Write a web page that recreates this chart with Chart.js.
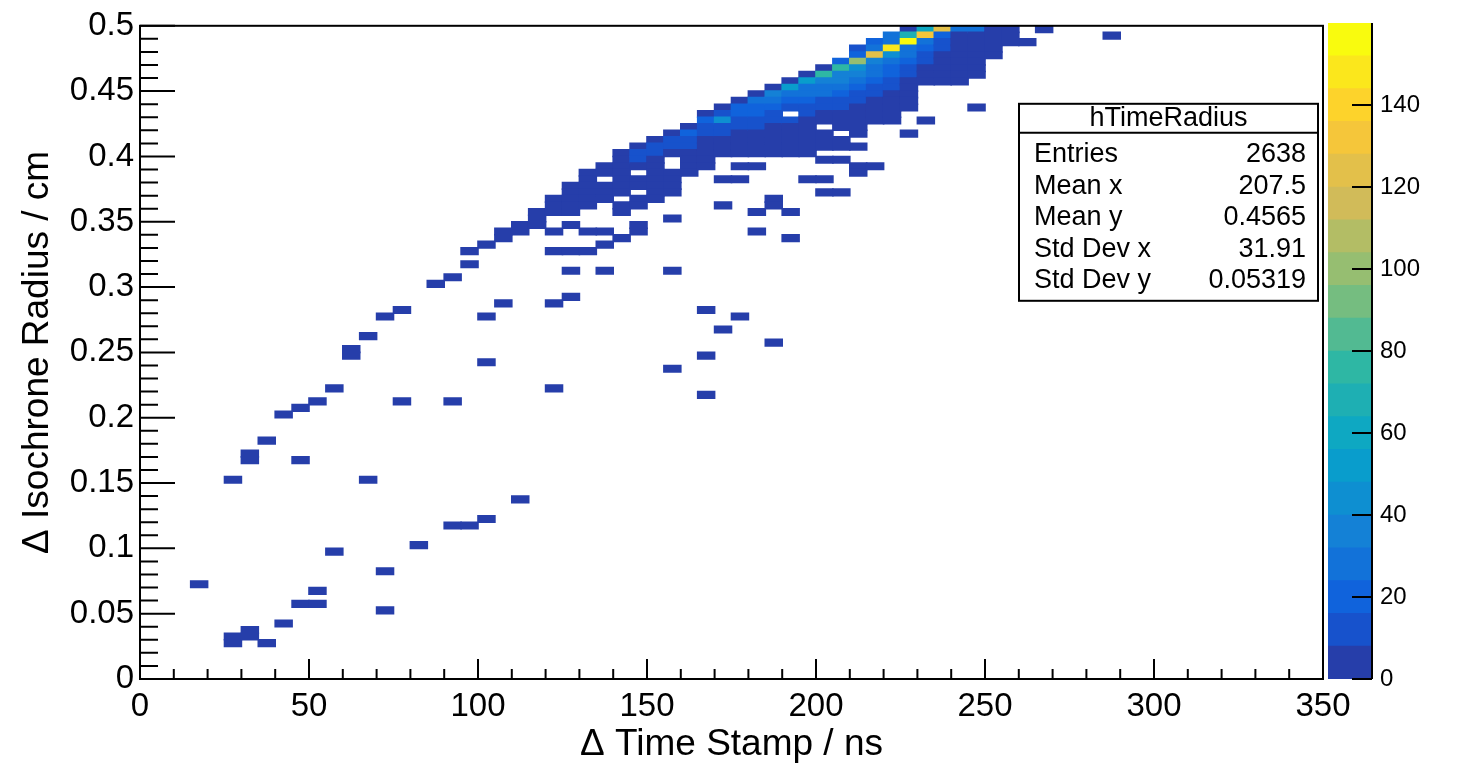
<!DOCTYPE html>
<html>
<head>
<meta charset="utf-8">
<script src="https://cdn.jsdelivr.net/npm/chart.js@4.4.1/dist/chart.umd.min.js"></script>
<style>
    html, body { margin: 0; padding: 0; background: #fff; }
    #wrap { position: relative; width: 1460px; height: 763px; overflow: hidden; }
    #hist { position: absolute; left: 0; top: 0; }
    #palette { position: absolute; left: 1328px; top: 0; }
</style>
</head>
<body>
<div id="wrap">
    <canvas id="hist" width="1460" height="763"></canvas>
    <canvas id="palette" width="132" height="763"></canvas>
</div>
<script>
const binWidth = 5;       // ns
const binHeight = 0.005;  // cm

const xTicks = [0, 50, 100, 150, 200, 250, 300, 350];
const yTicks = ['0', '0.05', '0.1', '0.15', '0.2', '0.25', '0.3', '0.35', '0.4', '0.45', '0.5'];
const zTicks = [0, 20, 40, 60, 80, 100, 120, 140];
const zMax = 160;
const zBands = 20;

const statsTitle = 'hTimeRadius';
const statsLabels = ['Entries', 'Mean x', 'Mean y', 'Std Dev x', 'Std Dev y'];
const statsValues = ['2638', '207.5', '0.4565', '31.91', '0.05319'];

// Isolated bins: [time bin low edge (ns), radius of top bin low edge (cm), counts going down]
const strayBins = [
    [15, 0.070, [1]],
    [25, 0.030, [1, 1]], [25, 0.150, [1]],
    [30, 0.035, [1, 1]], [30, 0.170, [1, 1]],
    [35, 0.025, [1]], [35, 0.180, [1]],
    [40, 0.040, [1]], [40, 0.200, [1]],
    [45, 0.055, [1]], [45, 0.165, [1]], [45, 0.205, [1]],
    [50, 0.065, [1, 0, 1]], [50, 0.210, [1]],
    [55, 0.095, [1]], [55, 0.220, [1]],
    [60, 0.250, [1, 1]],
    [65, 0.150, [1]], [65, 0.260, [1]],
    [70, 0.050, [1]], [70, 0.080, [1]], [70, 0.275, [1]],
    [75, 0.210, [1]], [75, 0.280, [1]],
    [80, 0.100, [1]],
    [85, 0.300, [1]],
    [90, 0.115, [1]], [90, 0.210, [1]], [90, 0.305, [1]],
    [95, 0.115, [1]], [95, 0.325, [1, 0, 1]],
    [100, 0.120, [1]], [100, 0.240, [1]], [100, 0.275, [1]], [100, 0.330, [1]],
    [105, 0.285, [1]],
    [110, 0.135, [1]],
    [120, 0.325, [1]], [120, 0.285, [1]], [120, 0.220, [1]],
    [125, 0.325, [1]], [125, 0.310, [1]], [125, 0.290, [1]],
    [130, 0.325, [1]],
    [135, 0.340, [1]], [135, 0.330, [1]], [135, 0.310, [1]],
    [140, 0.335, [1]],
    [145, 0.345, [1, 1]],
    [155, 0.350, [1]], [155, 0.310, [1]], [155, 0.235, [1]],
    [165, 0.280, [1]], [165, 0.245, [1]], [165, 0.215, [1]],
    [170, 0.380, [1]], [170, 0.360, [1]], [170, 0.265, [1]],
    [175, 0.390, [1, 0, 1]], [175, 0.275, [1]],
    [180, 0.390, [1]], [180, 0.355, [1]], [180, 0.340, [1]],
    [185, 0.365, [1, 1]], [185, 0.255, [1]],
    [190, 0.355, [1]], [190, 0.335, [1]],
    [195, 0.380, [1]],
    [200, 0.395, [1, 0, 0, 1, 0, 1]],
    [205, 0.395, [1]], [205, 0.370, [1]],
    [210, 0.390, [1, 1]],
    [215, 0.390, [1]],
    [225, 0.415, [1]],
    [230, 0.425, [1]],
    [245, 0.435, [1]],
    [260, 0.485, [2]],
    [265, 0.495, [2]],
    [285, 0.490, [2]],
];

// Main band, one column per time bin: [time low edge (ns), top radius low edge (cm), counts going down]
const bandColumns = [
    [105, 0.340, [2, 1]],
    [110, 0.345, [1, 2]],
    [115, 0.355, [1, 2, 1]],
    [120, 0.365, [2, 1, 1, 0, 0, 1]],
    [125, 0.375, [1, 2, 2, 1, 1, 0, 1]],
    [130, 0.385, [2, 3, 2, 1, 2, 1, 0, 0, 0, 1]],
    [135, 0.390, [2, 3, 0, 2, 1, 2]],
    [140, 0.400, [2, 4, 3, 2, 2, 3, 2, 0, 1, 1]],
    [145, 0.405, [3, 12, 9, 4, 0, 3, 2, 0, 2, 1]],
    [150, 0.410, [3, 10, 9, 4, 2, 3, 2, 2, 1, 1]],
    [155, 0.415, [3, 14, 10, 4, 0, 0, 2, 3, 2, 1]],
    [160, 0.420, [3, 16, 15, 9, 4, 3, 2, 2]],
    [165, 0.430, [4, 18, 12, 9, 5, 3, 3, 2, 1]],
    [170, 0.435, [4, 12, 40, 14, 9, 5, 3, 2]],
    [175, 0.440, [5, 20, 16, 12, 9, 5, 3, 2, 2]],
    [180, 0.445, [5, 30, 22, 18, 12, 8, 5, 3, 2, 1]],
    [185, 0.450, [6, 35, 24, 18, 12, 9, 5, 3, 2, 2, 1]],
    [190, 0.455, [5, 50, 28, 20, 12, 0, 9, 5, 3, 3, 2, 2]],
    [195, 0.460, [6, 52, 30, 26, 16, 12, 9, 5, 3, 3, 2, 2, 1]],
    [200, 0.465, [5, 72, 36, 30, 24, 14, 10, 5, 3, 0, 2, 2, 1]],
    [205, 0.470, [20, 78, 38, 34, 26, 18, 12, 9, 5, 3, 2, 0, 1, 1]],
    [210, 0.480, [10, 22, 100, 40, 34, 28, 20, 12, 9, 5, 3, 3, 2, 2, 0, 1]],
    [215, 0.485, [22, 26, 125, 34, 28, 24, 16, 12, 9, 5, 3, 3, 2]],
    [220, 0.490, [28, 30, 148, 45, 28, 20, 16, 12, 9, 5, 3, 3, 2, 2]],
    [225, 0.495, [5, 66, 156, 30, 24, 18, 14, 10, 6, 4, 3, 2, 2]],
    [230, 0.495, [60, 130, 30, 18, 14, 10, 6, 4, 3]],
    [235, 0.495, [125, 20, 12, 9, 7, 5, 4, 3, 2]],
    [240, 0.495, [30, 7, 7, 6, 5, 4, 3, 2, 1]],
    [245, 0.495, [28, 6, 6, 5, 4, 3, 2, 2]],
    [250, 0.495, [4, 4, 4, 3, 2]],
    [255, 0.495, [3, 2, 3]],
];

// ROOT kBird palette stops
const birdStops = [0, 0.125, 0.25, 0.375, 0.5, 0.625, 0.75, 0.875, 1];
const birdR = [0.2082, 0.0592, 0.0780, 0.0232, 0.1802, 0.5301, 0.8186, 0.9956, 0.9764];
const birdG = [0.1664, 0.3599, 0.5041, 0.6419, 0.7178, 0.7492, 0.7328, 0.7862, 0.9832];
const birdB = [0.5293, 0.8684, 0.8385, 0.7914, 0.6425, 0.4662, 0.3499, 0.1968, 0.0539];

function birdColor(f) {
    let i = 0;
    while (i < birdStops.length - 2 && f > birdStops[i + 1]) i++;
    const u = (f - birdStops[i]) / (birdStops[i + 1] - birdStops[i]);
    const ch = (arr) => Math.round(255 * (arr[i] + (arr[i + 1] - arr[i]) * u));
    return `rgb(${ch(birdR)}, ${ch(birdG)}, ${ch(birdB)})`;
}

const bandColors = [];
for (let k = 0; k < zBands; k++) bandColors.push(birdColor((k + 1) / zBands));
const bandStep = zMax / zBands;
const colorFor = (n) => bandColors[Math.min(zBands - 1, Math.floor(n / bandStep))];

const cells = [];
[...strayBins, ...bandColumns].forEach(([t, rTop, counts]) => {
    counts.forEach((n, k) => {
        if (!n) return;
        const r = +(rTop - k * binHeight).toFixed(4);
        cells.push({ x: t + binWidth / 2, y: [r, +(r + binHeight).toFixed(4)], n });
    });
});

const fontFamily = '"Liberation Sans", Arial, Helvetica, sans-serif';
const ink = '#000';

const frameTicks = {
    id: 'frameTicks',
    afterDatasetsDraw(chart) {
        const { ctx, chartArea: a, scales: { x, y } } = chart;
        ctx.save();
        ctx.strokeStyle = ink;
        ctx.lineWidth = 2;
        ctx.beginPath();
        for (let v = 0; v <= 350; v += 10) {
            const px = x.getPixelForValue(v);
            const len = v % 50 === 0 ? 20 : 10;
            ctx.moveTo(px, a.bottom);
            ctx.lineTo(px, a.bottom - len);
        }
        for (let k = 0; k <= 50; k++) {
            const py = y.getPixelForValue(k * 0.01);
            const len = k % 5 === 0 ? 35 : 18;
            ctx.moveTo(a.left, py);
            ctx.lineTo(a.left + len, py);
        }
        ctx.stroke();
        ctx.strokeRect(a.left, a.top, a.right - a.left, a.bottom - a.top);
        ctx.restore();
    },
    afterDraw(chart) {
        const { ctx, chartArea: a } = chart;
        const w = 299, h = 197;
        const left = a.right - 304, top = a.top + 78;
        ctx.save();
        ctx.fillStyle = '#fff';
        ctx.fillRect(left, top, w, h);
        ctx.strokeStyle = ink;
        ctx.lineWidth = 2;
        ctx.strokeRect(left, top, w, h);
        ctx.beginPath();
        ctx.moveTo(left, top + 29);
        ctx.lineTo(left + w, top + 29);
        ctx.stroke();
        ctx.fillStyle = ink;
        ctx.font = `27px ${fontFamily}`;
        ctx.textBaseline = 'middle';
        ctx.textAlign = 'center';
        ctx.fillText(statsTitle, left + w / 2, top + 15);
        statsLabels.forEach((label, i) => {
            const yy = top + 51 + i * 31.5;
            ctx.textAlign = 'left';
            ctx.fillText(label, left + 15, yy);
            ctx.textAlign = 'right';
            ctx.fillText(statsValues[i], left + w - 12, yy);
        });
        ctx.restore();
    },
};

new Chart(document.getElementById('hist'), {
    type: 'bar',
    data: {
        datasets: [{
            data: cells,
            backgroundColor: (c) => (c.raw ? colorFor(c.raw.n) : bandColors[0]),
            borderWidth: 0,
            inflateAmount: 0.8,
            barPercentage: 1,
            categoryPercentage: 1,
            grouped: false,
        }],
    },
    options: {
        responsive: false,
        animation: false,
        events: [],
        layout: { padding: { left: 0, right: 137, top: 23, bottom: 0 } },
        plugins: { legend: { display: false }, tooltip: { enabled: false } },
        scales: {
            x: {
                type: 'linear',
                min: 0,
                max: 350,
                offset: false,
                grid: { display: false, drawTicks: false, offset: false },
                border: { display: false },
                afterBuildTicks: (s) => { s.ticks = xTicks.map((v) => ({ value: v })); },
                afterFit: (s) => { s.height = 84; },
                ticks: {
                    autoSkip: false,
                    maxRotation: 0,
                    padding: 8,
                    color: ink,
                    font: { family: fontFamily, size: 33 },
                    callback: (v) => String(v),
                },
                title: {
                    display: true,
                    text: 'Δ Time Stamp / ns',
                    color: ink,
                    font: { family: fontFamily, size: 37, lineHeight: 1 },
                    padding: { top: 0, bottom: 0 },
                },
            },
            y: {
                type: 'linear',
                min: 0,
                max: 0.5,
                grid: { display: false, drawTicks: false },
                border: { display: false },
                afterBuildTicks: (s) => { s.ticks = yTicks.map((v) => ({ value: Number(v) })); },
                afterFit: (s) => { s.width = 140; },
                ticks: {
                    autoSkip: false,
                    padding: 6,
                    color: ink,
                    font: { family: fontFamily, size: 33 },
                    callback: (v, i) => yTicks[i],
                },
                title: {
                    display: true,
                    text: 'Δ Isochrone Radius / cm',
                    color: ink,
                    font: { family: fontFamily, size: 37, lineHeight: 1 },
                    padding: { top: 19, bottom: 0 },
                },
            },
        },
    },
    plugins: [frameTicks],
});

const paletteTicks = {
    id: 'paletteTicks',
    afterDatasetsDraw(chart) {
        const { ctx, chartArea: a, scales: { y } } = chart;
        ctx.save();
        ctx.strokeStyle = ink;
        ctx.lineWidth = 2;
        ctx.beginPath();
        zTicks.forEach((v) => {
            const py = y.getPixelForValue(v);
            ctx.moveTo(a.right, py);
            ctx.lineTo(a.right - 20, py);
        });
        ctx.moveTo(a.right, a.top);
        ctx.lineTo(a.right, a.bottom);
        ctx.stroke();
        ctx.restore();
    },
};

new Chart(document.getElementById('palette'), {
    type: 'bar',
    data: {
        labels: ['z'],
        datasets: bandColors.map((color, k) => ({
            data: [[k * bandStep, (k + 1) * bandStep]],
            backgroundColor: color,
            borderWidth: 0,
            barPercentage: 1,
            categoryPercentage: 1,
            grouped: false,
        })),
    },
    options: {
        responsive: false,
        animation: false,
        events: [],
        layout: { padding: { left: 0, right: 0, top: 23, bottom: 84 } },
        plugins: { legend: { display: false }, tooltip: { enabled: false } },
        scales: {
            x: { display: false },
            y: {
                position: 'right',
                min: 0,
                max: zMax,
                grid: { display: false, drawTicks: false },
                border: { display: false },
                afterBuildTicks: (s) => { s.ticks = zTicks.map((v) => ({ value: v })); },
                afterFit: (s) => { s.width = 88; },
                ticks: {
                    autoSkip: false,
                    padding: 8,
                    color: ink,
                    font: { family: fontFamily, size: 24 },
                },
            },
        },
    },
    plugins: [paletteTicks],
});
</script>
</body>
</html>
